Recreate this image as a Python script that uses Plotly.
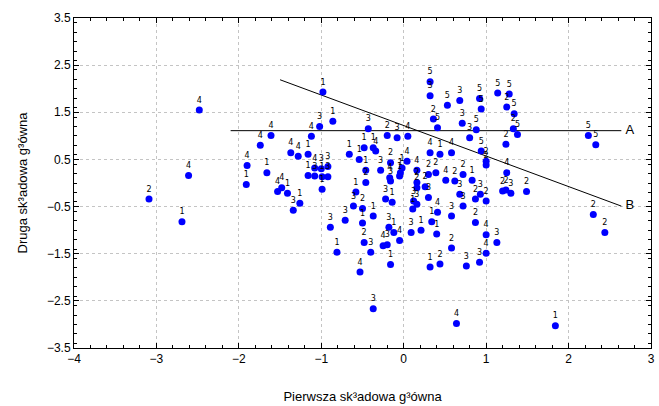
import plotly.graph_objects as go

# Component scores (PC1, PC2) and group labels
pc1 = [-2.48, -2.61, -3.09, -2.69, -1.90, -1.91, -1.74, -1.61, -1.37, -1.66,
       -1.53, -1.48, -1.41, -1.34, -1.28, -1.16, -1.26, -1.08, -1.00, -0.92,
       -1.16, -1.08, -0.99, -0.92, -0.99, -1.12, -0.98, -0.86, -1.02, -0.66,
       -0.54, -0.48, -0.37, -0.46, -0.43, -0.46, -0.58, -0.34, -0.20, -0.08,
       0.05, -0.16, -0.28, -0.17, 0.04, -0.02, -0.04, -0.05, 0.16, 0.16,
       0.30, 0.39, 0.32, 0.44, 0.51, 0.26, 0.30, 0.16, -0.16, 0.12,
       -0.22, -0.14, 0.32, 0.32, 0.53, 0.36, 0.41, 0.68, 0.92, 0.94,
       0.71, 0.88, 0.80, 1.14, 1.28, 1.25, 1.34, 1.33, 1.38, 2.24,
       2.33, 1.49, 2.30, 2.44, 0.58, 0.94, 1.00, 1.00, 1.24, 1.25,
       1.20, 1.24, 1.30, 0.72, 0.83, 0.62, 0.68, 0.93, 0.87, 1.00,
       0.72, 0.58, 0.87, 1.00, 1.13, 1.00, 0.58, 0.76, 0.92, -0.37,
       -0.18, -0.12, -0.25, -0.20, -0.05, -0.40, -0.16, 0.09, 0.21, 0.11,
       0.16, 0.41, 0.34, 0.40, 0.44, 0.32, -0.89, -0.71, -0.61, -0.50,
       -0.50, -0.48, -0.81, -0.53, -0.37, 0.64, 1.84]
pc2 = [1.55, 0.16, -0.34, -0.82, 0.37, -0.03, 0.80, 1.01, 0.64, 0.22,
       -0.18, -0.10, -0.22, -0.58, 0.57, 0.61, -0.43, 0.32, 0.30, 0.35,
       0.16, 0.15, 0.13, 0.13, -0.13, 0.99, 1.93, 1.31, 1.20, 0.61,
       0.50, 0.75, 0.75, 0.27, 1.15, 0.01, -0.19, 0.68, 1.01, 0.96,
       0.99, 0.43, 0.27, 0.11, 0.46, 0.32, 0.22, 0.15, 0.27, 0.01,
       0.18, 0.22, 0.64, 0.61, 0.06, -0.08, -0.31, -0.10, 0.04, -0.38,
       -0.34, -0.41, 2.15, 1.85, 1.65, 1.36, 1.17, 1.75, 1.79, 1.57,
       1.27, 1.13, 0.96, 1.91, 1.89, 1.61, 1.47, 1.15, 1.03, 1.01,
       0.81, -0.18, -0.67, -1.05, 0.64, 0.68, 0.46, 0.38, 0.82, 0.22,
       -0.17, -0.15, -0.22, 0.18, 0.06, 0.04, -0.24, -0.24, -0.34, -0.38,
       -0.49, -0.70, -0.84, -1.10, -1.26, -1.49, -1.38, -1.76, -1.68, -0.70,
       -0.94, -1.05, -1.33, -1.31, -1.22, -1.47, -1.73, -1.05, -1.00, -0.55,
       -0.45, -0.62, -0.82, -1.08, -1.72, -1.78, -0.94, -0.79, -0.49, -0.54,
       -0.85, -1.26, -1.47, -1.89, -2.67, -2.98, -3.03]
group = ["4", "4", "2", "1", "4", "1", "4", "4", "4", "1",
         "4", "4", "1", "3", "4", "1", "1", "4", "3", "3",
         "1", "3", "1", "3", "1", "4", "1", "1", "3", "1",
         "1", "1", "1", "1", "3", "2", "1", "4", "2", "3",
         "4", "2", "3", "4", "4", "1", "1", "1", "4", "2",
         "2", "2", "4", "1", "4", "2", "3", "2", "3", "3",
         "3", "1", "5", "3", "5", "2", "5", "3", "5", "5",
         "3", "5", "3", "5", "5", "2", "5", "2", "5", "5",
         "5", "2", "2", "2", "4", "5", "2", "2", "2", "4",
         "2", "2", "3", "2", "1", "2", "3", "3", "2", "2",
         "3", "3", "2", "4", "3", "4", "2", "3", "3", "1",
         "3", "1", "4", "3", "4", "3", "1", "3", "1", "1",
         "3", "4", "1", "1", "2", "1", "3", "3", "3", "2",
         "1", "2", "1", "4", "3", "4", "1"]

# Reference lines A and B
line_a_x = [-2.10, 2.64]
line_a_y = [1.11, 1.11]
line_b_x = [-1.50, 2.64]
line_b_y = [2.19, -0.49]
line_names = ["A", "B"]

x_ticks = [-4, -3, -2, -1, 0, 1, 2, 3]
y_ticks = [3.5, 2.5, 1.5, 0.5, -0.5, -1.5, -2.5, -3.5]

fig = go.Figure()
fig.add_trace(go.Scatter(x=line_a_x, y=line_a_y, mode="lines",
                         line=dict(color="black", width=1), hoverinfo="skip"))
fig.add_trace(go.Scatter(x=line_b_x, y=line_b_y, mode="lines",
                         line=dict(color="black", width=1), hoverinfo="skip"))
fig.add_trace(go.Scatter(x=pc1, y=pc2, mode="markers+text", text=group,
                         textposition="top center",
                         textfont=dict(family="DejaVu Sans", size=8, color="black"),
                         marker=dict(color="#0000ff", size=7, line=dict(width=0))))

fig.add_trace(go.Scatter(x=[line_a_x[-1] + 0.05, line_b_x[-1] + 0.05],
                         y=[line_a_y[-1], line_b_y[-1]], mode="text",
                         text=line_names, textposition="middle right",
                         textfont=dict(family="Liberation Sans", size=13, color="black"),
                         cliponaxis=False))

axis_common = dict(
    showline=True, linecolor="black", linewidth=1, mirror="ticks",
    ticks="inside", ticklen=5, tickcolor="black",
    showgrid=True, gridcolor="#c4c4c4", griddash="dot", gridwidth=1,
    zeroline=False,
    tickfont=dict(family="Liberation Sans", size=12, color="black"),
    minor=dict(ticks="inside", ticklen=3, tickcolor="black", dtick=0.2, showgrid=False),
)

fig.update_layout(
    width=659, height=406,
    margin=dict(l=74, r=4, t=18, b=56),
    plot_bgcolor="white", paper_bgcolor="white",
    showlegend=False,
    font=dict(family="Liberation Sans", color="black"),
    xaxis=dict(range=[-4, 3], tickvals=x_ticks,
               title=dict(text="Pierwsza sk³adowa g³ówna", font=dict(size=13), standoff=26),
               **axis_common),
    yaxis=dict(range=[-3.5, 3.5], tickvals=y_ticks, tickformat=".1f",
               title=dict(text="Druga sk³adowa g³ówna", font=dict(size=13), standoff=16),
               **axis_common),
)

fig.write_html("out.html")
